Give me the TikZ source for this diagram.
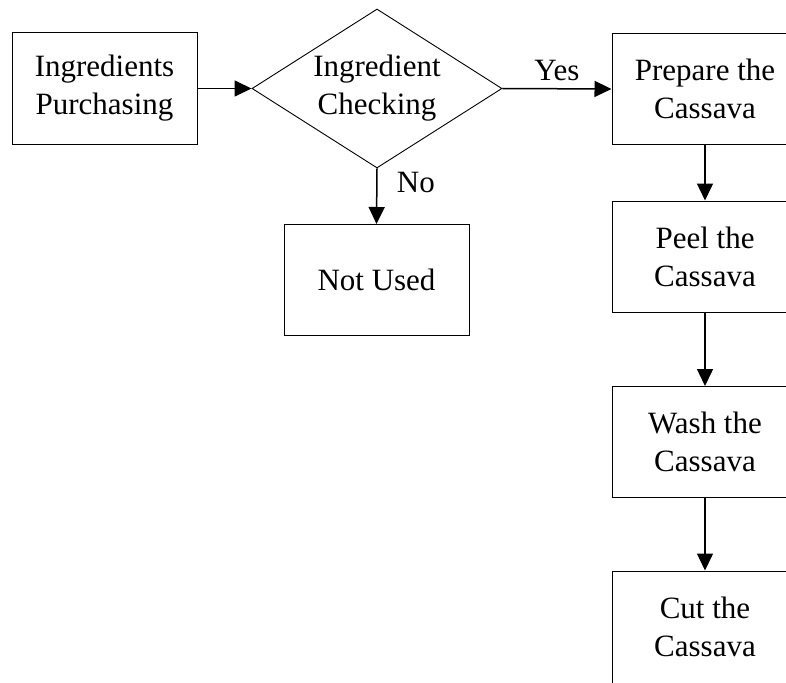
\documentclass[tikz,border=0pt]{standalone}
\usepackage{fontspec}
\setmainfont{Liberation Serif}
\usetikzlibrary{shapes.geometric,arrows.meta,positioning}
\begin{document}
\begin{tikzpicture}[
        x=1pt, y=-1pt,
        font=\fontsize{31}{38}\selectfont,
        stepbox/.style={draw, line width=1pt, rectangle, minimum width=185pt, minimum height=111pt, inner sep=0pt, align=center},
        check/.style={draw, line width=0.9pt, diamond, aspect=1.572, minimum width=250pt, minimum height=159pt, inner sep=0pt, align=center},
        arrow/.style={-{Triangle[length=17pt,width=16pt]}, line width=1.5pt}
    ]
        \useasboundingbox (0,0) rectangle (786,682);
        \clip (0,0) rectangle (786,682);
        % left part: buying and checking
        \node[stepbox] (purchase) at (104.5,88.5) {Ingredients\\Purchasing};
        \node[check] (checking) at (377,88.5) {Ingredient\\Checking};
        \node[stepbox] (notused) at (376.5,280) {Not Used};
        % right column of cassava steps
        \node[stepbox, minimum width=186pt] (prepare) at (705,89) {Prepare the\\Cassava};
        \node[stepbox, minimum width=186pt] (peel) at (705,256.5) {Peel the\\Cassava};
        \node[stepbox, minimum width=186pt] (wash) at (705,442) {Wash the\\Cassava};
        \node[stepbox, minimum width=186pt, minimum height=112pt] (cut) at (705,627) {Cut the\\Cassava};
        % connectors
        \draw[arrow] (purchase) -- (checking);
        \draw[arrow] (checking.east) -- node[above=4pt] {Yes} (prepare.west);
        \draw[arrow] (checking.south) -- node[right=16pt, pos=0.25] {No} (notused.north);
        \foreach \from/\to in {prepare/peel, peel/wash, wash/cut} {
            \draw[arrow] (\from) -- (\to);
        }
    \end{tikzpicture}
\end{document}
